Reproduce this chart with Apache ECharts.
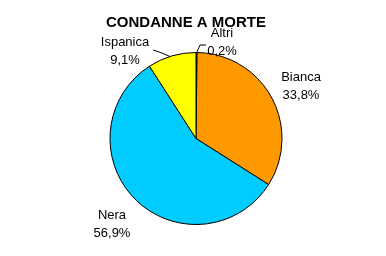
<!DOCTYPE html>
<html>
<head>
<meta charset="utf-8">
<script src="https://cdn.jsdelivr.net/npm/echarts@6/dist/echarts.min.js"></script>
<style>html,body{margin:0;padding:0;background:#fff;}#c{width:386px;height:256px;}</style>
</head>
<body>
<div id="c"></div>
<script>
const categories = ['Altri', 'Bianca', 'Nera', 'Ispanica'];
const values = [0.2, 33.8, 56.9, 9.1];
const colors = ['#993366', '#FF9900', '#00CCFF', '#FFFF00'];
const withLine = [true, false, false, true];

// label placement (layout only)
const labelPos = [
  {x: 222, y: 42, line: [[196, 54], [200, 45], [206, 45]]},
  {x: 301, y: 86},
  {x: 112, y: 224},
  {x: 125, y: 51, line: [[171, 57], [162, 53], [153, 50]]}
];

const chart = echarts.init(document.getElementById('c'), null, {renderer: 'canvas'});
chart.setOption({
  animation: false,
  backgroundColor: '#fff',
  title: {
    text: 'CONDANNE A MORTE',
    left: 101,
    top: 10,
    textStyle: {fontFamily: 'Liberation Sans', fontWeight: 'bold', fontSize: 15, color: '#000'}
  },
  series: [{
    type: 'pie',
    center: [196, 138.5],
    radius: [0, 86],
    startAngle: 90,
    clockwise: true,
    avoidLabelOverlap: false,
    itemStyle: {borderColor: '#000', borderWidth: 1},
    label: {
      show: true,
      position: 'outside',
      fontFamily: 'Liberation Sans',
      fontSize: 13,
      lineHeight: 18,
      color: '#000',
      formatter: p => p.name + '\n' + p.value.toFixed(1).replace('.', ',') + '%'
    },
    labelLine: {show: true, lineStyle: {color: '#000', width: 1}, length: 10, length2: 10},
    labelLayout: function (params) {
      const lp = labelPos[params.dataIndex];
      const r = {x: lp.x, y: lp.y, align: 'center', verticalAlign: 'middle'};
      if (lp.line) r.labelLinePoints = lp.line;
      return r;
    },
    data: categories.map((c, i) => ({
      name: c,
      value: values[i],
      itemStyle: {color: colors[i]},
      labelLine: {show: withLine[i]}
    }))
  }]
});
</script>
</body>
</html>
